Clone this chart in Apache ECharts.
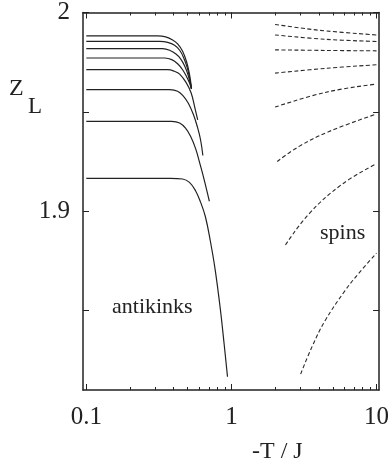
<!DOCTYPE html>
<html><head><meta charset="utf-8">
<script src="https://cdn.jsdelivr.net/npm/echarts@6/dist/echarts.min.js"></script>
<style>html,body{margin:0;padding:0;background:#fff}#c{width:392px;height:461px}</style>
</head><body><div id="c"></div>
<script>
// ---- data ----
const xMajorTicks = [0.1, 1, 10];
const xMinorTicks = [0.2,0.3,0.4,0.5,0.6,0.7,0.8,0.9,2,3,4,5,6,7,8,9];
const yTicks = [1.85, 1.9, 1.95, 2];
const yTickLabels = [1.9, 2];
const xRange = [0.0949, 10.42];
const yRange = [1.81, 2.0];

const antikinkT = [
  [0.1,0.2,0.311,0.3525,0.3936,0.426,0.461,0.491,0.514,0.531],
  [0.1,0.2,0.321,0.364,0.406,0.440,0.468,0.4985,0.531],
  [0.1,0.2,0.336,0.3755,0.4127,0.4466,0.4755,0.5026,0.531],
  [0.1,0.2,0.347,0.388,0.426,0.461,0.491,0.514,0.531],
  [0.1,0.2,0.364,0.406,0.440,0.488,0.528,0.557,0.586],
  [0.1,0.2,0.3755,0.426,0.468,0.506,0.548,0.583,0.612,0.636],
  [0.1,0.2,0.388,0.440,0.483,0.523,0.566,0.612,0.652,0.705],
  [0.1,0.2,0.38,0.461,0.514,0.566,0.612,0.662,0.716,0.775,0.838,0.893,0.940]
];
const antikinkZ = [
  [1.9882,1.9882,1.9882,1.9877,1.9862,1.9842,1.9805,1.9752,1.969,1.962],
  [1.9855,1.9855,1.9855,1.985,1.9835,1.981,1.9774,1.9717,1.9615],
  [1.9818,1.9818,1.9818,1.981,1.9792,1.9767,1.9732,1.9686,1.9615],
  [1.9771,1.9771,1.9771,1.9763,1.9742,1.9712,1.9677,1.9646,1.9615],
  [1.9712,1.9712,1.9712,1.9704,1.9690,1.9647,1.9595,1.9528,1.9459],
  [1.9612,1.9612,1.9612,1.9604,1.9578,1.9542,1.9485,1.9424,1.9362,1.928],
  [1.9452,1.9452,1.9452,1.9444,1.9418,1.9377,1.9316,1.9229,1.9153,1.905],
  [1.9165,1.9165,1.9165,1.9162,1.9145,1.9103,1.9047,1.8972,1.885,1.870,1.851,1.8325,1.8167]
];
const spinT = [
  [2,3,4.5,10],
  [2,4.5,10],
  [2,4.5,10],
  [2,4.5,10],
  [2,4.5,10],
  [2.07,2.91,4.67,10],
  [2.36,3.4,5.75,10],
  [3.0,3.59,4.43,6.07,7.48,10]
];
const spinZ = [
  [1.994,1.9922,1.9907,1.9887],
  [1.9887,1.9865,1.9854],
  [1.9812,1.9809,1.9807],
  [1.9695,1.9719,1.9737],
  [1.9524,1.9599,1.964],
  [1.925,1.9325,1.94,1.9489],
  [1.883,1.8984,1.9134,1.9239],
  [1.818,1.8317,1.845,1.86,1.8684,1.8789]
];

// ---- chart ----
const lg = v => Math.log10(v);
const FONT = '"Liberation Serif", "Times New Roman", serif';
const INK = '#222';
const xmin = lg(xRange[0]), xmax = lg(xRange[1]);

function xAxisDef(pos, ticks, len, showLine, showLabel) {
  return {
    type: 'value', position: pos, min: xmin, max: xmax, offset: 0,
    axisLine: { show: showLine, onZero: false, lineStyle: { color: INK, width: 1.5 } },
    axisTick: { show: true, inside: true, length: len, customValues: ticks.map(lg), lineStyle: { color: INK, width: 1 } },
    axisLabel: { show: showLabel, customValues: xMajorTicks.map(lg), margin: 15,
      formatter: v => { const r = Math.pow(10, v); return r < 1 ? r.toFixed(1) : String(Math.round(r)); },
      fontFamily: FONT, fontSize: 25, color: INK },
    splitLine: { show: false }
  };
}
function yAxisDef(pos, showLabel) {
  return {
    type: 'value', position: pos, min: yRange[0], max: yRange[1],
    axisLine: { show: true, onZero: false, lineStyle: { color: INK, width: 1.5 } },
    axisTick: { show: true, inside: true, length: 6, customValues: yTicks, lineStyle: { color: INK, width: 1 } },
    axisLabel: { show: showLabel, customValues: yTickLabels, margin: 13,
      formatter: v => (Math.abs(v - 2) < 1e-9 ? '2' : v.toFixed(1)),
      fontFamily: FONT, fontSize: 25, color: INK },
    splitLine: { show: false }
  };
}

const series = [];
antikinkT.forEach((ts, i) => {
  series.push({
    type: 'line', xAxisIndex: 0, yAxisIndex: 0, showSymbol: false, smooth: 0.4,
    data: ts.map((t, j) => [lg(t), antikinkZ[i][j]]),
    lineStyle: { color: INK, width: 1.2 }, silent: true
  });
});
spinT.forEach((ts, i) => {
  series.push({
    type: 'line', xAxisIndex: 0, yAxisIndex: 0, showSymbol: false, smooth: 0.4,
    data: ts.map((t, j) => [lg(t), spinZ[i][j]]),
    lineStyle: { color: '#2a2a2a', width: 1.1, type: [4, 2.5] }, silent: true
  });
});

const chart = echarts.init(document.getElementById('c'), null, { renderer: 'canvas' });
chart.setOption({
  animation: false,
  backgroundColor: '#fff',
  grid: { left: 83, right: 11, top: 10, bottom: 71, containLabel: false },
  xAxis: [
    xAxisDef('bottom', xMajorTicks, 6, true, true),
    xAxisDef('bottom', xMinorTicks, 3, false, false),
    xAxisDef('top', xMajorTicks, 6, true, false),
    xAxisDef('top', xMinorTicks, 3, false, false)
  ],
  yAxis: [yAxisDef('left', true), yAxisDef('right', false)],
  series: series,
  graphic: [
    { type: 'text', left: 9, top: 77, style: { text: 'Z', fontFamily: FONT, fontSize: 24, fill: INK } },
    { type: 'text', left: 28, top: 95, style: { text: 'L', fontFamily: FONT, fontSize: 23, fill: INK } },
    { type: 'text', left: 112, top: 296, style: { text: 'antikinks', fontFamily: FONT, fontSize: 22, fill: INK } },
    { type: 'text', left: 320, top: 222, style: { text: 'spins', fontFamily: FONT, fontSize: 22, fill: INK } },
    { type: 'text', left: 252, top: 440, style: { text: '-T / J', fontFamily: FONT, fontSize: 24, fill: INK } }
  ]
});
</script>
</body></html>
